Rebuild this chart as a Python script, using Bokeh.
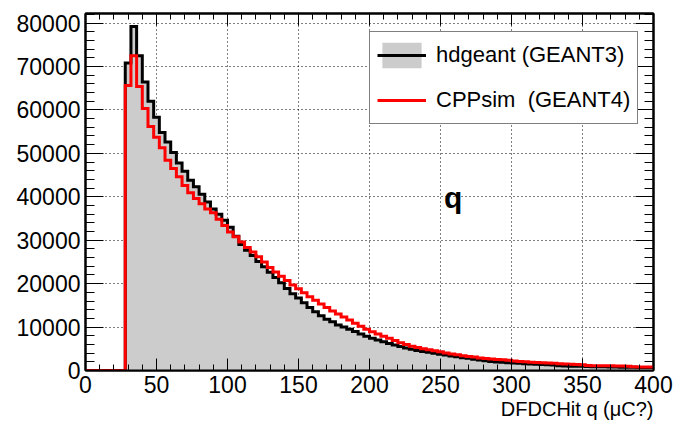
import numpy as np
from bokeh.plotting import figure
from bokeh.models import (Range1d, LinearAxis, SingleIntervalTicker, Legend,
                          LegendItem, Label, Title, BasicTickFormatter,
                          CustomJSTickFormatter)
from bokeh.embed import file_html
from bokeh.resources import INLINE

# ---- data -------------------------------------------------------------
bin_width = 4
first_edge = 28          # first non-empty bin starts here (bins of width 4 from 0 to 400)
x_min, x_max = 0, 400
y_max = 82200

hdgeant = [70800, 79200, 72500, 66400, 62000, 58300, 54800, 52600, 50200, 47800,
           45900, 43800, 42300, 40600, 38800, 37200, 36000, 34600, 33000, 30900,
           29000, 27700, 26500, 25100, 23900, 22600, 21400, 20200, 18900, 17700,
           16700, 15600, 14500, 13500, 12600, 11800, 11200, 10500, 10000, 9500,
           9000, 8400, 7900, 7400, 7000, 6600, 6200, 5900, 5500, 5200,
           4900, 4600, 4400, 4200, 3950, 3750, 3550, 3350, 3150, 2950,
           2800, 2600, 2400, 2250, 2100, 1950, 1900, 1800, 1700, 1650,
           1550, 1500, 1450, 1400, 1350, 1250, 1100, 1050, 1000, 1000,
           950, 900, 880, 850, 850, 820, 800, 760, 740, 720,
           700, 700, 680]

cppsim = [65600, 72500, 65400, 60300, 56200, 53700, 51300, 48400, 46500, 44600,
          42600, 40900, 39600, 38400, 37200, 36300, 34800, 33400, 31900, 30800,
          29600, 28300, 27300, 26200, 25000, 23700, 22700, 21700, 20700, 19700,
          18800, 17900, 17000, 16200, 15300, 14500, 13700, 13000, 12300, 11600,
          10900, 10200, 9500, 8900, 8400, 7900, 7400, 6900, 6400, 6000,
          5600, 5300, 5000, 4800, 4550, 4300, 4050, 3800, 3600, 3400,
          3250, 3100, 2900, 2750, 2650, 2550, 2450, 2350, 2200, 2100,
          2000, 1900, 1850, 1800, 1750, 1650, 1550, 1500, 1450, 1400,
          1300, 1150, 1120, 1100, 1100, 1080, 1050, 1020, 1000, 850,
          820, 800, 780]

label_black = "hdgeant (GEANT3)"
label_red = "CPPsim  (GEANT4)"
x_title = "DFDCHit q (\u03bcC?)"
panel_text = "q"

x_tick_interval = 50
y_tick_interval = 10000

# ---- helpers ----------------------------------------------------------
def step_outline(vals):
    vals = np.asarray(vals, dtype=float)
    edges = first_edge + bin_width * np.arange(len(vals) + 1)
    left = np.concatenate([[0.0], vals])
    right = np.concatenate([vals, [vals[-1]]])
    xs = np.concatenate([[x_min], np.repeat(edges, 2)])
    ys = np.concatenate([[0.0], np.column_stack([left, right]).ravel()])
    return xs, ys

FONT = "Liberation Sans"

p = figure(width=681, height=426, x_range=Range1d(x_min, x_max), y_range=Range1d(0, y_max),
           output_backend="svg", toolbar_location=None,
           min_border_left=85, min_border_right=28, min_border_top=13, min_border_bottom=56)
p.background_fill_color = "white"
p.border_fill_color = "white"
p.outline_line_color = "black"
p.outline_line_width = 2

xs_b, ys_b = step_outline(hdgeant)
xs_r, ys_r = step_outline(cppsim)

fill_r = p.varea(x=xs_b, y1=0, y2=ys_b, fill_color="#cccccc")
black_r = p.line(xs_b, ys_b, line_color="black", line_width=3, line_join="miter")
red_r = p.line(xs_r, ys_r, line_color="#ff0000", line_width=3, line_join="miter")

# ---- axes / ticks ----------------------------------------------------
xt = SingleIntervalTicker(interval=x_tick_interval, num_minor_ticks=5)
yt = SingleIntervalTicker(interval=y_tick_interval, num_minor_ticks=5)

for ax in p.xaxis:
    ax.ticker = xt
for ax in p.yaxis:
    ax.ticker = yt
    ax.formatter = BasicTickFormatter(use_scientific=False)
p.xgrid.ticker = xt
p.ygrid.ticker = yt

def style_axis(ax, major, minor, labels=True, standoff=5):
    ax.major_tick_in = major
    ax.major_tick_out = 0
    ax.minor_tick_in = minor
    ax.minor_tick_out = 0
    ax.major_tick_line_color = "black"
    ax.minor_tick_line_color = "black"
    ax.major_tick_line_width = 1
    ax.minor_tick_line_width = 1
    ax.axis_line_color = "black"
    ax.axis_line_width = 2
    ax.major_label_text_font = FONT
    ax.major_label_text_color = "black"
    ax.major_label_text_font_size = "23px"
    ax.major_label_standoff = standoff
    if not labels:
        ax.formatter = CustomJSTickFormatter(code="return ''")
        ax.major_label_standoff = 0

style_axis(p.xaxis[0], 12, 6, True, 5)
style_axis(p.yaxis[0], 18, 9, True, 5)

top_ax = LinearAxis(ticker=xt)
style_axis(top_ax, 12, 6, False)
p.add_layout(top_ax, "above")
right_ax = LinearAxis(ticker=yt)
style_axis(right_ax, 18, 9, False)
p.add_layout(right_ax, "right")

for g in (p.xgrid[0], p.ygrid[0]):
    g.grid_line_color = "black"
    g.grid_line_width = 1
    g.grid_line_dash = "1 3"

# ---- x-axis title (right aligned under the axis) ---------------------
p.add_layout(Title(text=x_title, align="right", text_font=FONT, text_font_size="20px",
                   text_font_style="normal", text_color="black", standoff=0,
                   offset=0), "below")

# ---- legend -----------------------------------------------------------
legend = Legend(items=[LegendItem(label=label_black, renderers=[fill_r, black_r]),
                       LegendItem(label=label_red, renderers=[red_r])],
                location=(284, 246))
legend.glyph_width = 49
legend.glyph_height = 32
legend.label_standoff = 10
legend.spacing = 13
legend.padding = 7
legend.margin = 0
legend.label_text_font = FONT
legend.label_text_font_size = "22px"
legend.label_text_color = "black"
legend.border_line_color = "black"
legend.border_line_width = 1.5
legend.background_fill_color = "white"
legend.background_fill_alpha = 1
p.add_layout(legend)

# ---- panel text -------------------------------------------------------
p.add_layout(Label(x=252.5, y=39900, text=panel_text, text_font=FONT,
                   text_font_size="30px", text_font_style="bold",
                   text_color="black", text_baseline="alphabetic"))

open("out.html", "w").write(file_html(p, INLINE))
